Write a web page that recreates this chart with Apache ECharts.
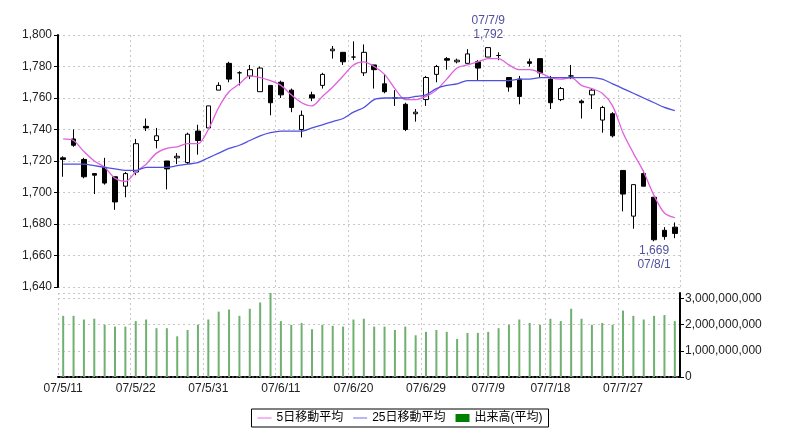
<!DOCTYPE html>
<html><head><meta charset="utf-8">
<script src="https://cdn.jsdelivr.net/npm/echarts@6/dist/echarts.min.js"></script>
<style>html,body{margin:0;background:#fff}#c{width:800px;height:448px}</style>
</head><body><div id="c"></div>
<script>
// trading days 07/5/11 .. 07/8/3
const dates = ['07/5/11','07/5/14','07/5/15','07/5/16','07/5/17','07/5/18','07/5/21','07/5/22','07/5/23','07/5/24',
  '07/5/25','07/5/28','07/5/29','07/5/30','07/5/31','07/6/1','07/6/4','07/6/5','07/6/6','07/6/7',
  '07/6/8','07/6/11','07/6/12','07/6/13','07/6/14','07/6/15','07/6/18','07/6/19','07/6/20','07/6/21',
  '07/6/22','07/6/25','07/6/26','07/6/27','07/6/28','07/6/29','07/7/2','07/7/3','07/7/4','07/7/5',
  '07/7/6','07/7/9','07/7/10','07/7/11','07/7/12','07/7/13','07/7/17','07/7/18','07/7/19','07/7/20',
  '07/7/23','07/7/24','07/7/25','07/7/26','07/7/27','07/7/30','07/7/31','07/8/1','07/8/2','07/8/3'];
const tickDates = ['07/5/11','07/5/22','07/5/31','07/6/11','07/6/20','07/6/29','07/7/9','07/7/18','07/7/27'];
const priceTicks = [1640, 1800, 20];

const open  = [1722,1734,1721,1712,1716,1710,1704,1713,1742,1733,1720,1722,1719,1739,1741,1765,1782,1776,1774,1764,
  1768,1770,1765,1740,1762,1768,1790,1789,1786,1776,1781,1769,1760,1756,1750,1759,1775,1785,1783,1782,
  1783,1786,1787,1773,1772,1783,1785,1772,1759,1774,1758,1762,1746,1750,1714,1685,1712,1697,1676,1678];
const close = [1721,1730,1710,1711,1706,1694,1712,1731,1741,1736,1715,1723,1737,1733,1755,1768,1772,1776,1778,1779,
  1757,1762,1754,1749,1760,1775,1791,1783,1786,1789,1778,1764,1760,1740,1751,1773,1780,1784,1784,1788,
  1779,1792,1787,1767,1761,1782,1776,1757,1766,1774,1757,1765,1754,1736,1699,1705,1704,1670,1672,1674];
const low   = [1710,1729,1709,1699,1705,1689,1697,1711,1739,1728,1702,1718,1718,1724,1741,1765,1770,1768,1772,1764,
  1749,1760,1751,1735,1758,1766,1785,1781,1784,1774,1766,1763,1755,1739,1745,1755,1770,1778,1782,1782,
  1771,1786,1784,1764,1756,1780,1773,1753,1758,1772,1747,1753,1738,1735,1688,1677,1704,1669,1670,1671];
const high  = [1723,1740,1722,1712,1722,1710,1713,1734,1747,1741,1720,1725,1738,1743,1755,1770,1783,1777,1781,1780,
  1768,1771,1766,1752,1764,1776,1793,1789,1796,1794,1781,1775,1765,1757,1753,1774,1781,1786,1785,1791,
  1784,1792,1789,1773,1774,1785,1785,1774,1767,1781,1759,1766,1755,1751,1714,1705,1714,1697,1678,1681];
const ma5   = [1734,1733,1726,1720,1716,1709,1707,1713,1718,1725,1728,1729,1731,1731,1740,1754,1764,1769,1774,1773,
  1771,1768,1762,1757,1755,1761,1767,1774,1781,1783,1780,1775,1766,1759,1759,1761,1765,1772,1779,1781,
  1783,1785,1785,1781,1778,1778,1776,1773,1772,1773,1768,1766,1763,1755,1738,1725,1713,1698,1687,1684];
const ma25  = [1718,1718,1718,1717,1716,1715,1714,1714,1716,1716,1716,1717,1718,1719,1722,1725,1728,1730,1733,1736,
  1738,1739,1739,1739,1741,1743,1745,1747,1751,1754,1759,1760,1760,1760,1761,1762,1766,1768,1769,1771,
  1771,1771,1771,1771,1772,1772,1773,1773,1773,1773,1773,1773,1772,1769,1766,1763,1760,1757,1754,1752];
// volume, billions of shares
const volume = [2.33,2.33,2.19,2.22,1.99,1.92,1.92,2.13,2.19,1.86,1.86,1.55,1.79,1.99,2.19,2.49,2.57,2.33,2.60,2.84,
  3.47,2.13,1.99,2.06,1.82,1.99,1.95,1.92,2.19,2.22,1.92,1.92,1.79,1.92,1.59,1.72,1.79,1.72,1.45,1.68,
  1.68,1.72,1.86,1.99,2.19,2.06,1.99,2.22,2.13,2.60,2.22,1.99,2.06,1.99,2.53,2.33,2.19,2.33,2.36,2.13];

const font = 'Arial, "Noto Sans CJK JP", sans-serif';
const showTick = (i, v) => tickDates.includes(dates[i]);
const dotted = { show: true, lineStyle: { color: '#c8c8c8', type: [2, 3], width: 1 } };
const vSplit = { show: true, interval: showTick, lineStyle: { color: '#c8c8c8', type: [2, 3], width: 1 } };
const lineIcon = 'path://M0,3.3h14v1.4h-14zM0,0h0.01v8h-0.01z';

const chart = echarts.init(document.getElementById('c'));
chart.setOption({
  animation: false,
  textStyle: { fontFamily: font },
  grid: [
    { left: 58, right: 120, top: 35, height: 252 },
    { left: 58, right: 120, top: 293, height: 84 }
  ],
  legend: {
    top: 409, left: 'center', itemWidth: 14, itemHeight: 8, itemGap: 10,
    borderColor: '#000', borderWidth: 1, padding: [3, 6], borderRadius: 0,
    textStyle: { fontSize: 12, color: '#000' },
    data: [
      { name: '5日移動平均', icon: lineIcon, itemStyle: { color: '#f0a0f0' } },
      { name: '25日移動平均', icon: lineIcon, itemStyle: { color: '#a0a0f0' } },
      { name: '出来高(平均)', icon: 'rect', itemStyle: { color: '#008000' } }
    ]
  },
  xAxis: [
    { type: 'category', data: dates, gridIndex: 0, boundaryGap: true,
      axisLine: { show: false }, axisTick: { show: false }, axisLabel: { show: false }, splitLine: vSplit },
    { type: 'category', data: dates, gridIndex: 1, boundaryGap: true,
      axisLine: { show: true, lineStyle: { color: '#000', type: [2, 2], width: 2 } },
      axisTick: { show: false },
      axisLabel: { interval: showTick, fontSize: 12, color: '#222', margin: 6 },
      splitLine: vSplit }
  ],
  yAxis: [
    { type: 'value', gridIndex: 0, min: priceTicks[0], max: priceTicks[1], interval: priceTicks[2], position: 'left',
      axisLine: { show: true, lineStyle: { color: '#000', width: 2 } },
      axisTick: { show: true, length: 4, lineStyle: { color: '#000' } },
      axisLabel: { fontSize: 12, color: '#222', margin: 6, formatter: v => v.toLocaleString('en-US') },
      splitLine: dotted },
    { type: 'value', gridIndex: 1, min: 0, max: 3.2, interval: 1, position: 'right',
      axisLine: { show: true, lineStyle: { color: '#000', width: 2 } },
      axisTick: { show: true, length: 4, lineStyle: { color: '#000' } },
      axisLabel: { fontSize: 12, color: '#222', margin: 5, showMaxLabel: false,
        formatter: v => (v * 1e9).toLocaleString('en-US') },
      splitLine: dotted }
  ],
  series: [
    { name: 'price', type: 'candlestick', xAxisIndex: 0, yAxisIndex: 0, barWidth: 5,
      data: dates.map((d, i) => [open[i], close[i], low[i], high[i]]),
      itemStyle: { color: '#fff', color0: '#000', borderColor: '#000', borderColor0: '#000', borderWidth: 1 },
      markPoint: {
        symbol: 'circle', symbolSize: 0,
        label: { color: '#5050a0', fontSize: 12, lineHeight: 14 },
        data: [
          { coord: [41, high[41]], label: { formatter: '07/7/9\n1,792', position: 'top', distance: 6 } },
          { coord: [57, low[57]], label: { formatter: '1,669\n07/8/1', position: 'bottom', distance: 2 } }
        ]
      } },
    { name: '5日移動平均', type: 'line', xAxisIndex: 0, yAxisIndex: 0, data: ma5, smooth: 0.3,
      symbol: 'none', lineStyle: { color: '#e060e0', width: 1.3 }, itemStyle: { color: '#f0a0f0' } },
    { name: '25日移動平均', type: 'line', xAxisIndex: 0, yAxisIndex: 0, data: ma25, smooth: 0.3,
      symbol: 'none', lineStyle: { color: '#5050e0', width: 1.3 }, itemStyle: { color: '#a0a0f0' } },
    { name: '出来高(平均)', type: 'bar', xAxisIndex: 1, yAxisIndex: 1, data: volume, barWidth: 2,
      itemStyle: { color: '#70b070' } }
  ]
});
</script></body></html>
